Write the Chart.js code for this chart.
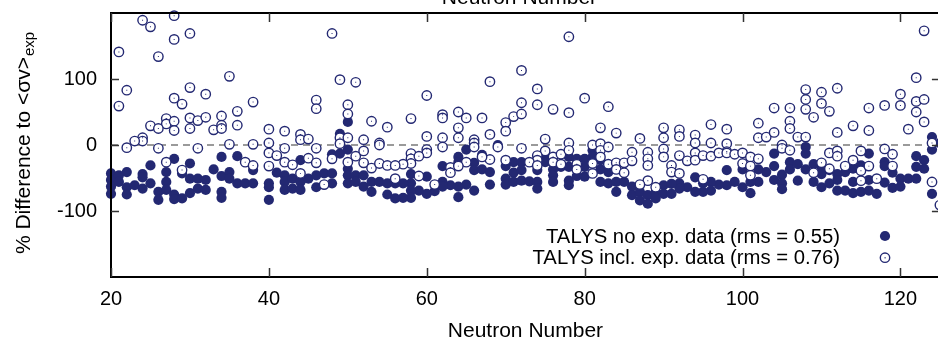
<!DOCTYPE html>
<html>
<head>
<meta charset="utf-8">
<script src="https://cdn.jsdelivr.net/npm/chart.js@4/dist/chart.umd.min.js"></script>
<style>
  html, body { margin: 0; padding: 0; background: #fff; overflow: hidden; }
  #wrap { position: absolute; left: 0; top: 0; width: 946px; height: 341px; }
</style>
</head>
<body>
<div id="wrap"><canvas id="chart" width="946" height="341"></canvas></div>
<script>
// Neutron number / % difference pairs
const noExpN = [
  28,25,30,34,36,20,20,20,20,21,21,22,22,22,23,24,24,24,25,26,26,27,27,27,28,28,29,29,30,30,31,31,32,32,33,34,34,34,35,35,36,37,38,38,40,
  50,49,48,49,50,50,40,40,41,42,42,42,43,43,44,44,44,45,46,46,47,48,48,50,50,51,51,52,52,53,53,54,55,55,
  69,65,64,64,67,66,66,67,68,62,71,71,72,72,70,70,70,71,72,68,66,65,64,64,63,62,62,61,60,60,59,58,58,58,58,57,57,56,56,
  81,81,75,75,74,73,74,74,76,76,76,77,78,78,78,78,79,79,80,80,80,82,82,82,83,83,84,84,85,86,86,87,87,88,88,89,89,90,90,
  108,108,104,104,104,106,106,107,107,108,105,105,105,103,102,102,101,101,100,100,99,98,98,97,96,96,95,95,94,94,93,92,92,91,91,
  116,122,123,123,122,118,118,119,115,114,113,112,112,111,110,110,109,109,110,111,112,113,114,114,115,116,116,117,118,119,120,120,121,122,124,124,125,124
];
const noExpPct = [
  -21,-31,-28,-18,-17,-43,-53,-63,-74,-46,-56,-41,-64,-75,-61,-44,-49,-66,-58,-71,-83,-41,-56,-68,-75,-82,-43,-81,-51,-73,-51,-66,-53,-68,-37,-47,-71,-80,-41,-51,-58,-58,-58,-38,-83,
  35,17,-14,-13,-7,-36,-58,-64,-42,-46,-56,-68,-51,-66,-23,-56,-68,-51,-46,-64,-43,-43,-58,-46,-58,-46,-56,-46,-63,-56,-71,-56,-58,-75,
  0,-7,-18,-26,-15,-27,-38,-37,-41,-32,-26,-42,-26,-38,-32,-51,-60,-56,-54,-60,-69,-60,-63,-79,-61,-56,-63,-70,-48,-74,-69,-44,-58,-69,-80,-58,-80,-58,-81,
  -8,-18,-18,-26,-38,-55,-56,-66,-37,-46,-56,-33,-18,-33,-54,-61,-21,-47,-21,-33,-48,-23,-37,-56,-41,-58,-56,-71,-56,-63,-76,-71,-84,-76,-89,-71,-81,-61,-74,
  -3,-13,-13,-32,-53,-26,-37,-29,-54,-37,-45,-58,-67,-41,-37,-56,-56,-73,-37,-64,-56,-38,-61,-60,-56,-69,-58,-71,-49,-71,-64,-58,-66,-59,-74,
  -13,-17,-23,-36,-33,-26,-32,-42,-31,-36,-41,-44,-53,-38,-33,-44,-29,-56,-64,-58,-69,-69,-56,-73,-71,-53,-69,-74,-57,-65,-51,-63,-51,-51,12,-7,3,-74
];

const inclExpN = [
  24,25,28,28,30,21,26,35,22,21,28,29,30,32,36,38,27,27,28,28,25,26,30,30,31,32,33,34,34,34,36,24,24,23,22,26,31,35,38,27,29,37,
  48,49,51,46,46,50,50,53,55,40,42,44,44,45,40,40,41,42,42,43,44,45,46,46,40,38,49,49,50,48,50,51,52,52,52,53,54,54,54,55,47,
  72,68,60,58,62,62,64,65,67,64,64,60,62,62,68,70,70,71,72,72,72,66,66,66,69,60,60,58,58,58,59,57,56,68,70,65,63,63,56,59,61,67,64,
  78,74,74,76,78,80,83,82,84,87,90,90,90,90,75,75,74,74,73,74,76,76,77,78,78,81,81,81,82,82,82,83,83,84,84,85,85,86,86,88,88,88,88,87,89,79,79,77,
  108,108,108,104,106,106,106,102,102,103,104,107,108,96,98,92,92,94,94,96,98,98,105,105,106,92,91,91,92,93,94,94,95,96,97,98,99,100,100,101,101,101,102,95,
  123,122,110,110,112,111,109,116,118,120,120,122,122,123,123,121,114,112,116,111,112,112,115,114,113,110,111,109,115,115,116,117,118,119,119,124,124,125
];
const inclExpPct = [
  189,179,196,160,169,141,134,104,83,59,71,62,87,77,51,65,40,32,36,22,29,25,41,25,37,42,23,44,30,25,30,11,6,6,-4,-5,-5,1,1,-26,-38,-26,
  169,99,95,68,55,61,47,36,27,24,21,16,8,9,3,-12,-16,-5,-26,-30,-43,-20,-5,-27,-32,-31,11,2,11,-21,-26,-17,8,-9,-27,-35,3,0,-28,-31,-60,
  113,96,75,40,46,41,50,41,41,26,11,13,11,-3,16,34,21,43,64,47,-5,8,3,-3,-3,-7,-12,-13,-21,-28,-17,-29,-31,-22,-23,-26,-34,-42,-51,-47,-60,-18,-32,
  164,85,61,54,49,71,58,26,18,10,26,11,-6,-18,9,-9,-16,-23,-26,-31,-18,-26,-14,3,-8,0,-28,-43,2,-8,-18,-3,-29,-27,-37,-27,-42,-11,-24,-11,-21,-31,-54,-60,-64,-29,-37,-29,
  84,69,54,56,56,36,25,33,11,12,19,12,12,31,24,23,13,15,3,3,2,-10,0,-5,-8,-16,-31,-41,-43,-24,-12,-23,-16,-17,-12,-12,-14,-12,-28,-18,-32,-46,-21,-52,
  173,102,80,63,86,51,42,56,60,77,60,66,50,69,35,24,29,19,22,-12,-9,-17,-9,-23,-32,-27,-36,-42,-39,-54,-32,-51,-6,-14,-32,3,-56,-91
];

const xTicks = [20, 40, 60, 80, 100, 120];
const yTicks = [-100, 0, 100];

const NAVY = '#232872';
const FONT = '"Liberation Sans", Arial, Helvetica, sans-serif';
const TITLE_FONT = '21px ' + FONT;
const LEGEND_FONT = '20.3px ' + FONT;

const toPoints = (xs, ys) => xs.map((x, i) => ({ x, y: ys[i] }));

// frame, inward ticks, zero line, titles and legend
const decorations = {
  id: 'decorations',
  beforeDatasetsDraw(chart) {
    const { ctx, chartArea: a, scales: { y } } = chart;
    const y0 = y.getPixelForValue(0);
    ctx.save();
    ctx.strokeStyle = '#7a7a7a';
    ctx.lineWidth = 1.5;
    ctx.setLineDash([7, 5]);
    ctx.beginPath();
    ctx.moveTo(a.left, y0);
    ctx.lineTo(a.right, y0);
    ctx.stroke();
    ctx.restore();
  },
  afterDraw(chart) {
    const { ctx, chartArea: a, scales: { x, y } } = chart;
    ctx.save();
    ctx.strokeStyle = '#000';
    ctx.lineWidth = 2;
    ctx.strokeRect(a.left, a.top, a.right - a.left, a.bottom - a.top);

    ctx.lineWidth = 1.5;
    ctx.strokeStyle = '#333';
    ctx.beginPath();
    xTicks.forEach(v => {
      const px = Math.round(x.getPixelForValue(v)) + 0.5;
      ctx.moveTo(px, a.bottom); ctx.lineTo(px, a.bottom - 9);
      ctx.moveTo(px, a.top); ctx.lineTo(px, a.top + 9);
    });
    yTicks.forEach(v => {
      const py = Math.round(y.getPixelForValue(v)) + 0.5;
      ctx.moveTo(a.left, py); ctx.lineTo(a.left + 8, py);
      ctx.moveTo(a.right, py); ctx.lineTo(a.right - 8, py);
    });
    ctx.stroke();

    // axis titles
    ctx.fillStyle = '#000';
    ctx.font = TITLE_FONT;
    ctx.textAlign = 'center';
    ctx.textBaseline = 'alphabetic';
    const cx = (a.left + a.right) / 2;
    ctx.fillText('Neutron Number', cx, 337);
    ctx.fillText('Neutron Number', cx - 6, 4);

    const main = '% Difference to <σv>';
    const sub = 'exp';
    ctx.font = TITLE_FONT;
    const w1 = ctx.measureText(main).width;
    ctx.font = '15px ' + FONT;
    const w2 = ctx.measureText(sub).width;
    ctx.translate(29.5, 143.5);
    ctx.rotate(-Math.PI / 2);
    ctx.textAlign = 'left';
    ctx.font = TITLE_FONT;
    ctx.fillText(main, -(w1 + w2) / 2, 0);
    ctx.font = '15px ' + FONT;
    ctx.fillText(sub, -(w1 + w2) / 2 + w1 + 1, 4);
    ctx.restore();

    // legend
    ctx.save();
    ctx.font = LEGEND_FONT;
    ctx.textAlign = 'right';
    ctx.textBaseline = 'middle';
    const rows = [236, 257.7];
    chart.data.datasets.slice(0, 2).forEach((ds, i) => {
      ctx.fillStyle = '#000';
      ctx.fillText(ds.label, 840, rows[i] + 1);
      ctx.beginPath();
      ctx.arc(885, rows[i], ds.pointRadius, 0, Math.PI * 2);
      ctx.fillStyle = ds.backgroundColor;
      ctx.fill();
      if (ds.borderWidth) {
        ctx.lineWidth = ds.borderWidth;
        ctx.strokeStyle = ds.borderColor;
        ctx.stroke();
        ctx.fillStyle = NAVY;
        ctx.fillRect(884.5, rows[i] - 0.5, 1.2, 1.2);
      }
    });
    ctx.restore();
  }
};

new Chart(document.getElementById('chart'), {
  type: 'scatter',
  data: {
    datasets: [
      {
        label: 'TALYS no exp. data (rms = 0.55)',
        data: toPoints(noExpN, noExpPct),
        pointStyle: 'circle',
        pointRadius: 5.1,
        pointHoverRadius: 5.1,
        backgroundColor: NAVY,
        borderWidth: 0,
        clip: false,
        order: 3
      },
      {
        label: 'TALYS incl. exp. data (rms = 0.76)',
        data: toPoints(inclExpN, inclExpPct),
        pointStyle: 'circle',
        pointRadius: 4.7,
        pointHoverRadius: 4.7,
        backgroundColor: '#ffffff',
        borderColor: NAVY,
        borderWidth: 1.4,
        clip: false,
        order: 2
      },
      {
        // centre dots of the open circles
        label: 'centre',
        data: toPoints(inclExpN, inclExpPct),
        pointStyle: 'rect',
        pointRadius: 0.7,
        pointHoverRadius: 0.7,
        backgroundColor: NAVY,
        borderWidth: 0,
        clip: false,
        order: 1
      }
    ]
  },
  plugins: [decorations],
  options: {
    responsive: false,
    animation: false,
    devicePixelRatio: 1,
    layout: { padding: { top: 13, right: 0, left: 0, bottom: 0 } },
    plugins: {
      legend: { display: false },
      tooltip: { enabled: false }
    },
    scales: {
      x: {
        type: 'linear',
        min: 20,
        max: 125,
        afterBuildTicks: s => { s.ticks = xTicks.map(value => ({ value })); },
        afterFit: s => { s.height = 64; s.paddingLeft = 0; s.paddingRight = 0; },
        grid: { display: false, drawTicks: false },
        border: { display: false },
        ticks: { color: '#000', font: { family: FONT, size: 20 }, padding: 10, maxRotation: 0 }
      },
      y: {
        min: -200,
        max: 200,
        afterBuildTicks: s => { s.ticks = yTicks.map(value => ({ value })); },
        afterFit: s => { s.width = 111; s.paddingTop = 0; s.paddingBottom = 0; },
        grid: { display: false, drawTicks: false },
        border: { display: false },
        ticks: { color: '#000', font: { family: FONT, size: 20 }, padding: 14 }
      }
    }
  }
});
</script>
</body>
</html>
